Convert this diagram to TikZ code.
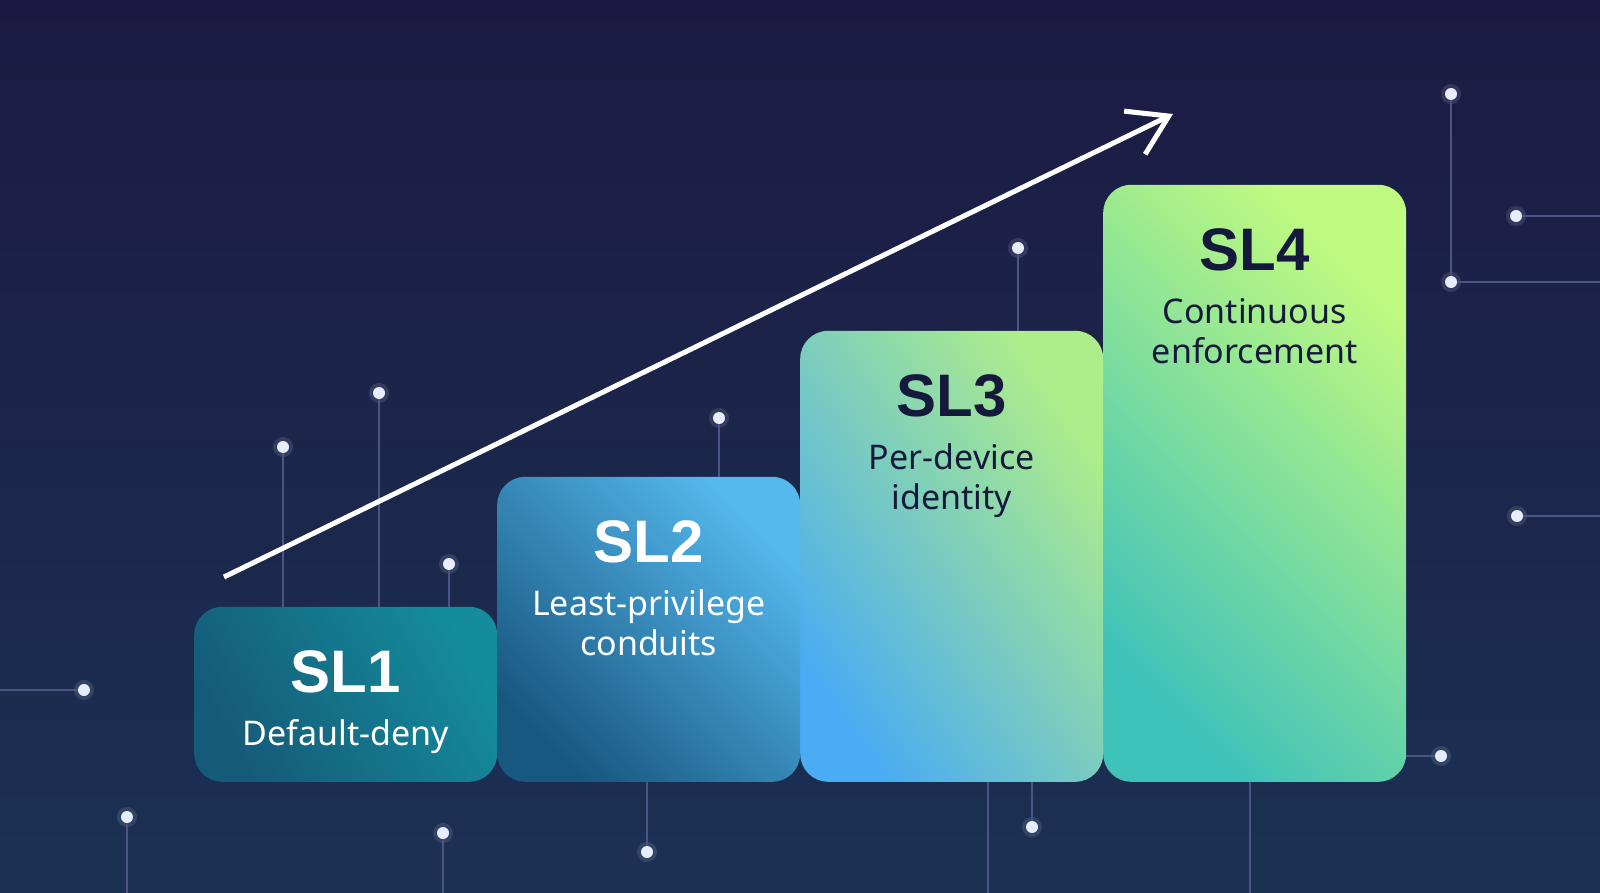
\documentclass[tikz,border=0pt]{standalone}
\usepackage{fontspec}
\setmainfont{Noto Sans}
\newfontfamily\headfont{Liberation Sans}
\usetikzlibrary{arrows.meta}

\definecolor{bgtop}{HTML}{1C1A42}
\definecolor{bgbot}{HTML}{1B3153}
\definecolor{wirec}{HTML}{4A5584}
\definecolor{dotc}{HTML}{E8ECFF}
\definecolor{ink}{HTML}{151A3D}
\definecolor{oneA}{HTML}{155A78}
\definecolor{oneB}{HTML}{148C9C}
\definecolor{twoA}{HTML}{185780}
\definecolor{twoB}{HTML}{55B9EE}
\definecolor{threeA}{HTML}{4AACF2}
\definecolor{threeB}{HTML}{AEEE8A}
\definecolor{fourA}{HTML}{3EC2BA}
\definecolor{fourB}{HTML}{C0FA80}

\tikzset{
  level/.style={rounded corners=28pt, minimum width=303pt, inner sep=0pt, anchor=south west},
  title/.style={anchor=base, font=\headfont\bfseries\fontsize{60}{60}\selectfont},
  sub/.style={anchor=base, align=center, font=\fontsize{34}{40}\selectfont},
  wire/.style={draw=wirec, line width=1.5pt},
  dot/.style={circle, fill=dotc, minimum size=12pt, inner sep=0pt,
    preaction={draw=dotc, line width=8pt, opacity=0.12}},
}

\begin{document}
\begin{tikzpicture}[x=1pt, y=-1pt]
    \useasboundingbox (0,0) rectangle (1600,893);
    % Фон
    \shade[top color=bgtop, bottom color=bgbot] (0,0) rectangle (1600,893);

    % Ступени (справа налево, левая сверху)
    \node[level, minimum height=597pt, top color=fourB, bottom color=fourA, shading angle=-45] (sl4) at (1103,782) {};
    \node[level, minimum height=451pt, top color=threeB, bottom color=threeA, shading angle=-55] (sl3) at (800,782) {};
    \node[level, minimum height=305pt, top color=twoB, bottom color=twoA, shading angle=-45] (sl2) at (497,782) {};
    \node[level, minimum height=175pt, top color=oneB, bottom color=oneA, shading angle=-60] (sl1) at (194,782) {};

    % Подписи ступеней (у двух строк base = последняя строка)
    \node[title, text=white] (t1) at ([yshift=-86pt]sl1.north) {SL1};
    \node[sub, text=white] (s1) at ([yshift=-139pt]sl1.north) {Default-deny};
    \node[title, text=white] (t2) at ([yshift=-86pt]sl2.north) {SL2};
    \node[sub, text=white] (s2) at ([yshift=-179pt]sl2.north) {Least-privilege\\conduits};
    \node[title, text=ink] (t3) at ([yshift=-86pt]sl3.north) {SL3};
    \node[sub, text=ink] (s3) at ([yshift=-179pt]sl3.north) {Per-device\\identity};
    \node[title, text=ink] (t4) at ([yshift=-86pt]sl4.north) {SL4};
    \node[sub, text=ink] (s4) at ([yshift=-179pt]sl4.north) {Continuous\\enforcement};

    % Точки
    \node[dot] (dA) at (1451,94) {};
    \node[dot] (dB) at (1451,282) {};
    \node[dot] (dC) at (1516,216) {};
    \node[dot] (dD) at (1018,248) {};
    \node[dot] (dE) at (719,418) {};
    \node[dot] (dF) at (379,393) {};
    \node[dot] (dG) at (283,447) {};
    \node[dot] (dH) at (449,564) {};
    \node[dot] (dI) at (1517,516) {};
    \node[dot] (dJ) at (1441,756) {};
    \node[dot] (dK) at (84,690) {};
    \node[dot] (dL) at (127,817) {};
    \node[dot] (dM) at (443,833) {};
    \node[dot] (dN) at (647,852) {};
    \node[dot] (dO) at (1032,827) {};

    % Края картинки
    \coordinate (eB) at (1600,282);
    \coordinate (eC) at (1600,216);
    \coordinate (eI) at (1600,516);
    \coordinate (eK) at (0,690);
    \coordinate (eL) at (127,893);
    \coordinate (eM) at (443,893);
    \coordinate (eP) at (988,893);
    \coordinate (eQ) at (1250,893);

    % Провода
    \draw[wire] (dA) -- (dB);
    \draw[wire] (dB) -- (eB);
    \draw[wire] (dC) -- (eC);
    \draw[wire] (dI) -- (eI);
    \draw[wire] (dK) -- (eK);
    \draw[wire] (dL) -- (eL);
    \draw[wire] (dM) -- (eM);
    \draw[wire] (dD) -- (dD |- sl3.north);
    \draw[wire] (dE) -- (dE |- sl2.north);
    \draw[wire] (dF) -- (dF |- sl1.north);
    \draw[wire] (dG) -- (dG |- sl1.north);
    \draw[wire] (dH) -- (dH |- sl1.north);
    \draw[wire] (dN) -- (dN |- sl2.south);
    \draw[wire] (dO) -- (dO |- sl3.south);
    \draw[wire] (dJ) -- (dJ -| sl4.east);
    \draw[wire] (eP) -- (eP |- sl3.south);
    \draw[wire] (eQ) -- (eQ |- sl4.south);

    % Стрелка роста
    \coordinate (up0) at (224,577);
    \coordinate (up1) at (1173,114);
    \draw[white, line width=5pt, -{Straight Barb[length=38pt, width=48pt]}] (up0) -- (up1);
\end{tikzpicture}
\end{document}
